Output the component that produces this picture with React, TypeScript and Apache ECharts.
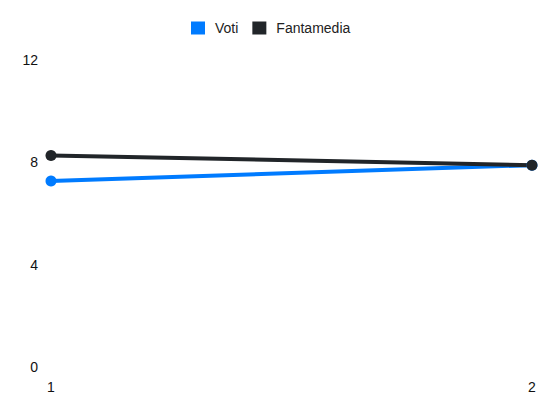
import React, { useEffect, useRef } from "react";
import * as echarts from "echarts";

const categories = ["1", "2"];
const voti = [7.27, 7.89];
const fantamedia = [8.27, 7.89];
const yTicks = { min: 0, max: 12, interval: 4 };

export default function App() {
  const ref = useRef<HTMLDivElement>(null);
  useEffect(() => {
    const chart = echarts.init(ref.current!, null, { renderer: "svg" });
    chart.setOption({
      animation: false,
      textStyle: { fontFamily: "'Liberation Sans', Arial, sans-serif" },
      legend: {
        top: 8,
        left: 178,
        itemWidth: 14,
        itemHeight: 13,
        itemGap: 14,
        icon: "rect",
        textStyle: { fontSize: 14, color: "#222", padding: [0, 0, 0, 5] },
        data: ["Voti", "Fantamedia"],
      },
      grid: { left: 43, right: 10, top: 52, bottom: 37, containLabel: false },
      xAxis: {
        type: "category",
        data: categories,
        boundaryGap: false,
        axisLine: { show: false },
        axisTick: { show: false },
        splitLine: { show: false },
        axisLabel: { fontSize: 14, color: "#111", margin: 13 },
      },
      yAxis: {
        type: "value",
        min: yTicks.min,
        max: yTicks.max,
        interval: yTicks.interval,
        axisLine: { show: false },
        axisTick: { show: false },
        splitLine: { show: false },
        axisLabel: { fontSize: 14, color: "#111", margin: 13 },
      },
      series: [
        {
          name: "Voti",
          type: "line",
          data: voti,
          symbol: "circle",
          symbolSize: 11,
          lineStyle: { width: 4, color: "#007bff" },
          itemStyle: { color: "#007bff" },
        },
        {
          name: "Fantamedia",
          type: "line",
          data: fantamedia,
          symbol: "circle",
          symbolSize: 11,
          lineStyle: { width: 4, color: "#212529" },
          itemStyle: { color: "#212529" },
        },
      ],
    });
    return () => chart.dispose();
  }, []);
  return <div ref={ref} style={{ width: 534, height: 396 }} />;
}
